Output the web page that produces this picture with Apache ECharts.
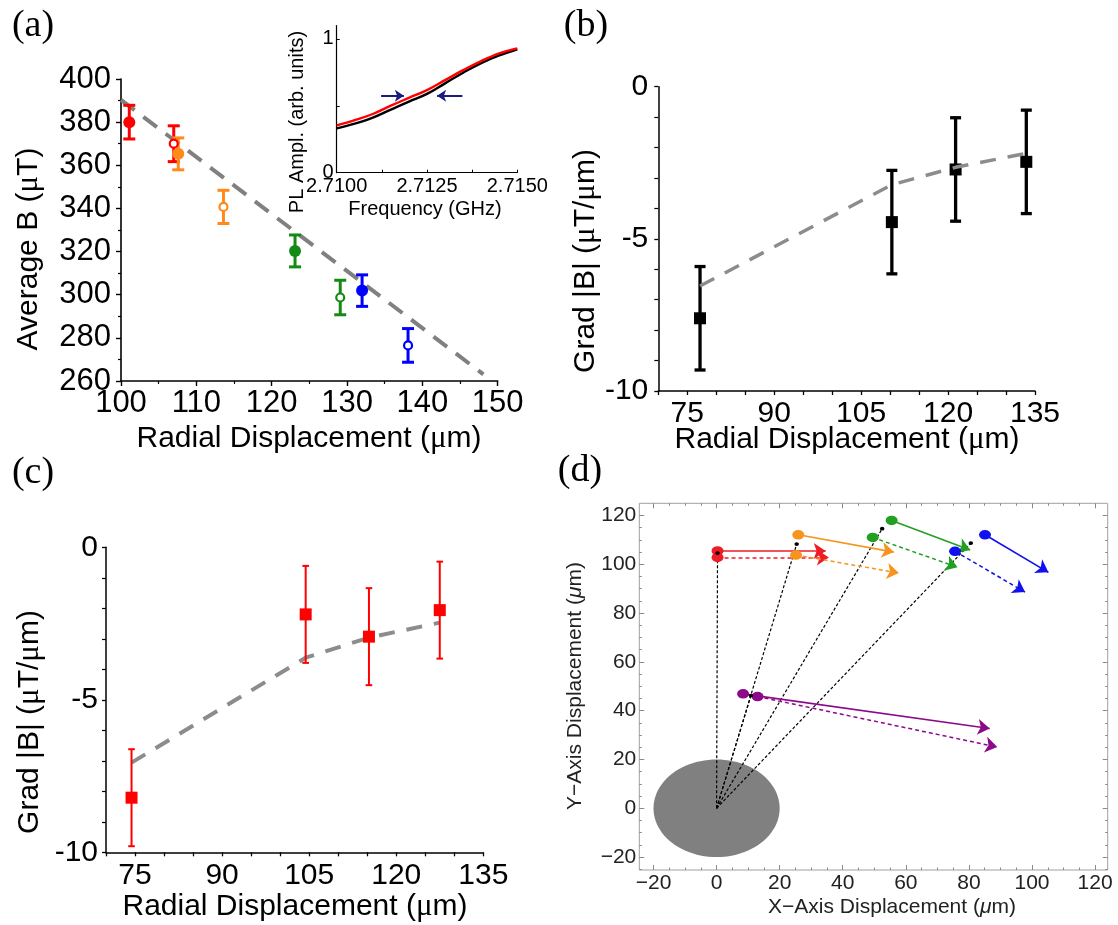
<!DOCTYPE html>
<html><head><meta charset="utf-8">
<script src="https://cdn.jsdelivr.net/npm/echarts@6/dist/echarts.min.js"></script>
<style>html,body{margin:0;padding:0;background:#fff}#c{width:1118px;height:925px}</style>
</head><body><div id="c"></div>
<script>
// ---------------- Panel (a): Average B vs radial displacement ----------------
const aX    = [101.1, 107.0, 107.6, 113.6, 123.1, 129.1, 132.0, 138.1];
const aY    = [380.0, 370.0, 365.3, 340.7, 320.3, 298.7, 301.9, 276.5];
const aErr  = [7.8, 8.3, 7.4, 7.7, 7.4, 8.0, 7.3, 7.8];
const aColors = ['#ff0000', '#ff0000', '#ff8a1c', '#ff8a1c', '#138a13', '#138a13', '#0000ff', '#0000ff'];
const aOpen = [false, true, false, true, false, true, false, true];
const aFitX = [100.0, 148.1];
const aFitY = [390.3, 263.1];

// ---------------- Inset of (a): PL amplitude vs frequency ----------------
const insetFreq  = [2.7100, 2.7105, 2.7110, 2.7115, 2.7120, 2.7125, 2.7130, 2.7135, 2.7140, 2.7145, 2.7150];
const insetBlack = [0.332, 0.367, 0.412, 0.472, 0.532, 0.589, 0.668, 0.748, 0.820, 0.877, 0.923];
const insetRed   = [0.354, 0.393, 0.439, 0.501, 0.560, 0.618, 0.692, 0.767, 0.835, 0.892, 0.930];
const insetArrowFromX = [2.71123, 2.71348];
const insetArrowToX   = [2.71186, 2.71278];
const insetArrowY     = [0.576, 0.576];
const insetXLabels = ['2.7100', '2.7125', '2.7150'];
const insetYLabels = [0, 1];
const insetYTicks  = [0, 0.5, 1];

// ---------------- Panel (b): Grad |B| (black) ----------------
const bX    = [77.2, 110.3, 121.3, 133.5];
const bY    = [-7.61, -4.45, -2.72, -2.47];
const bErr  = [1.70, 1.70, 1.70, 1.70];
const bFitY = [-6.55, -3.22, -2.65, -2.19];

// ---------------- Panel (c): Grad |B| (red) ----------------
const cX    = [74.4, 104.4, 115.3, 127.5];
const cY    = [-8.21, -2.20, -2.93, -2.06];
const cErr  = [1.59, 1.59, 1.59, 1.59];
const cFitY = [-7.06, -3.62, -2.96, -2.47];

// ---------------- Panel (d): displacement map ----------------
const dDiskRadius = 20;
const dColors   = ['#ee1c25', '#f7941d', '#22a022', '#1010f0', '#8b0a8b'];
const dMidX     = [0.3, 25.4, 52.5, 80.6, 10.9];
const dMidY     = [104.6, 108.3, 114.6, 108.7, 46.2];
const dSolidX0  = [0.3, 25.9, 55.5, 85.1, 8.4];
const dSolidY0  = [105.5, 112.1, 118.0, 112.1, 46.9];
const dSolidX1  = [34.6, 56.2, 80.4, 105.2, 86.6];
const dSolidY1  = [105.4, 105.0, 105.9, 96.7, 32.7];
const dDashX0   = [0.3, 25.2, 49.5, 75.6, 13.0];
const dDashY0   = [102.8, 103.8, 111.0, 105.3, 45.8];
const dDashX1   = [35.6, 57.8, 76.4, 97.8, 89.0];
const dDashY1   = [102.8, 96.4, 98.8, 88.6, 25.1];
const dMajorX = [-20, 0, 20, 40, 60, 80, 100, 120];
const dMinorX = [-15, -10, -5, 5, 10, 15, 25, 30, 35, 45, 50, 55, 65, 70, 75, 85, 90, 95, 105, 110, 115];
const dMajorY = [-20, 0, 20, 40, 60, 80, 100, 120];
const dMinorY = [-25, -15, -10, -5, 5, 10, 15, 25, 30, 35, 45, 50, 55, 65, 70, 75, 85, 90, 95, 105, 110, 115];

// ============================================================
const SANS = "'Liberation Sans', Arial, Helvetica, sans-serif";
const SERIF = "'Liberation Serif', 'Times New Roman', serif";

function errSeries(ai, xs, ys, es, colors, lw, half, z) {
  return {
    type: 'custom', xAxisIndex: ai, yAxisIndex: ai, silent: true, z: z || 2,
    data: xs.map((x, i) => [x, ys[i], es[i]]),
    renderItem(params, api) {
      const x = api.value(0), y = api.value(1), e = api.value(2);
      const t = api.coord([x, y + e]), b = api.coord([x, y - e]);
      const c = Array.isArray(colors) ? colors[params.dataIndex] : colors;
      const st = { stroke: c, lineWidth: lw };
      return { type: 'group', children: [
        { type: 'line', shape: { x1: t[0], y1: t[1], x2: b[0], y2: b[1] }, style: st },
        { type: 'line', shape: { x1: t[0] - half, y1: t[1], x2: t[0] + half, y2: t[1] }, style: st },
        { type: 'line', shape: { x1: b[0] - half, y1: b[1], x2: b[0] + half, y2: b[1] }, style: st }
      ]};
    }
  };
}

const blackAxis = (w) => ({ show: true, onZero: false, lineStyle: { color: '#000', width: w } });

function radialX(grid) {
  return { type: 'value', gridIndex: grid, min: 70, max: 135, interval: 5,
    axisLine: blackAxis(1.5), splitLine: { show: false },
    axisTick: { length: 4, lineStyle: { color: '#000', width: 1.3 } },
    axisLabel: { fontSize: 30, color: '#000', fontFamily: SANS, margin: 8,
      formatter: v => (v % 15 === 0 ? String(v) : '') } };
}
function gradY(grid, margin) {
  return { type: 'value', gridIndex: grid, min: -10, max: 0, interval: 5,
    axisLine: blackAxis(1.5), splitLine: { show: false },
    axisTick: { length: 4, lineStyle: { color: '#000', width: 1.3 } },
    minorTick: { show: true, splitNumber: 5, length: 4, lineStyle: { color: '#000', width: 1.2 } },
    axisLabel: { fontSize: 30, color: '#000', fontFamily: SANS, margin: margin } };
}
function dAxis(isX, pos, ticks, len, labels) {
  return { type: 'value', gridIndex: 4, position: pos,
    min: isX ? -24.5 : -25.3, max: isX ? 124 : 125,
    axisLine: { show: false, onZero: false }, splitLine: { show: false },
    axisTick: { show: true, inside: true, length: len, customValues: ticks, lineStyle: { color: '#8a8a8a', width: 1 } },
    axisLabel: labels ? { show: true, customValues: labels, fontSize: 21, color: '#222', fontFamily: SANS, margin: 3,
      formatter: v => (v < 0 ? '\u2212' + (-v) : String(v)) } : { show: false } };
}

const xAxes = [
  { type: 'value', gridIndex: 0, min: 100, max: 150, interval: 10,
    axisLine: blackAxis(1.6), splitLine: { show: false },
    axisTick: { length: 5, lineStyle: { color: '#000', width: 1.4 } },
    minorTick: { show: true, splitNumber: 2, length: 3, lineStyle: { color: '#000', width: 1.2 } },
    axisLabel: { fontSize: 31, color: '#000', fontFamily: SANS, margin: 7 } },
  { type: 'value', gridIndex: 1, min: 2.71, max: 2.715, interval: 0.00125,
    axisLine: blackAxis(1.2), splitLine: { show: false },
    axisTick: { inside: true, length: 3, lineStyle: { color: '#000', width: 1 } },
    axisLabel: { fontSize: 20, color: '#000', fontFamily: SANS, margin: 4,
      formatter: v => { const k = Math.round((v - 2.71) / 0.00125); return k % 2 === 0 ? insetXLabels[k / 2] : ''; } } },
  radialX(2),
  radialX(3),
  dAxis(true, 'bottom', dMajorX, 5, dMajorX),
  dAxis(true, 'bottom', dMinorX, 2.5, null),
  dAxis(true, 'top', dMajorX, 5, null),
  dAxis(true, 'top', dMinorX, 2.5, null)
];
const yAxes = [
  { type: 'value', gridIndex: 0, min: 260, max: 400, interval: 20,
    axisLine: blackAxis(1.6), splitLine: { show: false },
    axisTick: { length: 5, lineStyle: { color: '#000', width: 1.4 } },
    minorTick: { show: true, splitNumber: 2, length: 3, lineStyle: { color: '#000', width: 1.2 } },
    axisLabel: { fontSize: 31, color: '#000', fontFamily: SANS, margin: 10 } },
  { type: 'value', gridIndex: 1, min: 0, max: 1.1,
    axisLine: blackAxis(1.2), splitLine: { show: false },
    axisTick: { inside: true, length: 3, customValues: insetYTicks, lineStyle: { color: '#000', width: 1 } },
    axisLabel: { fontSize: 20, color: '#000', fontFamily: SANS, margin: 3, customValues: insetYLabels } },
  gradY(2, 10),
  gradY(3, 8),
  dAxis(false, 'left', dMajorY, 5, dMajorY),
  dAxis(false, 'left', dMinorY, 2.5, null),
  dAxis(false, 'right', dMajorY, 5, null),
  dAxis(false, 'right', dMinorY, 2.5, null)
];

const series = [];
// ---- (a)
series.push({ type: 'line', xAxisIndex: 0, yAxisIndex: 0, symbol: 'none', silent: true, z: 1,
  data: aFitX.map((x, i) => [x, aFitY[i]]),
  lineStyle: { color: '#808080', width: 4, type: [17, 11] } });
series.push(errSeries(0, aX, aY, aErr, aColors, 3, 6, 2));
series.push({ type: 'scatter', xAxisIndex: 0, yAxisIndex: 0, z: 3, silent: true,
  data: aX.map((x, i) => ({ value: [x, aY[i]], symbolSize: aOpen[i] ? 8 : 12,
    itemStyle: aOpen[i] ? { color: '#fff', borderColor: aColors[i], borderWidth: 2.2, opacity: 1 } : { color: aColors[i], opacity: 1 } })) });
// ---- inset
series.push({ type: 'line', xAxisIndex: 1, yAxisIndex: 1, symbol: 'none', smooth: 0.4, silent: true,
  data: insetFreq.map((f, i) => [f, insetBlack[i]]), lineStyle: { color: '#000', width: 2.4 } });
series.push({ type: 'line', xAxisIndex: 1, yAxisIndex: 1, symbol: 'none', smooth: 0.4, silent: true,
  data: insetFreq.map((f, i) => [f, insetRed[i]]), lineStyle: { color: '#ff0000', width: 2.4 } });
series.push({ type: 'lines', coordinateSystem: 'cartesian2d', xAxisIndex: 1, yAxisIndex: 1, silent: true,
  symbol: ['none', 'arrow'], symbolSize: 9,
  data: insetArrowFromX.map((x, i) => ({ coords: [[x, insetArrowY[i]], [insetArrowToX[i], insetArrowY[i]]] })),
  lineStyle: { color: '#1a1a80', width: 2, opacity: 1 } });
// ---- (b)
series.push(errSeries(2, bX, bY, bErr, '#000', 3.3, 5.5, 2));
series.push({ type: 'scatter', xAxisIndex: 2, yAxisIndex: 2, symbol: 'rect', symbolSize: 12, z: 3, silent: true,
  data: bX.map((x, i) => [x, bY[i]]), itemStyle: { color: '#000', opacity: 1 } });
series.push({ type: 'line', xAxisIndex: 2, yAxisIndex: 2, symbol: 'none', silent: true, z: 4,
  data: bX.map((x, i) => [x, bFitY[i]]), lineStyle: { color: '#8c8c8c', width: 3.5, type: [16, 12] } });
// ---- (c)
series.push({ type: 'line', xAxisIndex: 3, yAxisIndex: 3, symbol: 'none', silent: true, z: 1,
  data: cX.map((x, i) => [x, cFitY[i]]), lineStyle: { color: '#8c8c8c', width: 4, type: [16, 12] } });
series.push(errSeries(3, cX, cY, cErr, '#ff0000', 2, 3.3, 2));
series.push({ type: 'scatter', xAxisIndex: 3, yAxisIndex: 3, symbol: 'rect', symbolSize: 12, z: 3, silent: true,
  data: cX.map((x, i) => [x, cY[i]]), itemStyle: { color: '#ff0000', opacity: 1 } });
// ---- (d)
series.push({ type: 'custom', xAxisIndex: 4, yAxisIndex: 4, silent: true, z: 1,
  data: [[0, 0, dDiskRadius]],
  renderItem(params, api) {
    const cx = api.value(0), cy = api.value(1), r = api.value(2);
    const pts = [];
    for (let k = 0; k < 96; k++) {
      const t = k / 96 * Math.PI * 2;
      pts.push(api.coord([cx + r * Math.cos(t), cy + r * Math.sin(t)]));
    }
    return { type: 'polygon', shape: { points: pts }, style: { fill: '#808080' } };
  } });
series.push({ type: 'lines', coordinateSystem: 'cartesian2d', xAxisIndex: 4, yAxisIndex: 4, silent: true, z: 2,
  symbol: 'none',
  data: dMidX.map((x, i) => ({ coords: [[0, 0], [x, dMidY[i]]] })),
  lineStyle: { color: '#000', width: 1.2, type: [3, 2], opacity: 1 } });
series.push({ type: 'lines', coordinateSystem: 'cartesian2d', xAxisIndex: 4, yAxisIndex: 4, silent: true, z: 3,
  symbol: ['none', 'arrow'], symbolSize: 12,
  data: dColors.map((c, i) => ({ coords: [[dSolidX0[i], dSolidY0[i]], [dSolidX1[i], dSolidY1[i]]], lineStyle: { color: c } })),
  lineStyle: { width: 1.6, opacity: 1 } });
series.push({ type: 'lines', coordinateSystem: 'cartesian2d', xAxisIndex: 4, yAxisIndex: 4, silent: true, z: 3,
  symbol: ['none', 'arrow'], symbolSize: 12,
  data: dColors.map((c, i) => ({ coords: [[dDashX0[i], dDashY0[i]], [dDashX1[i], dDashY1[i]]], lineStyle: { color: c } })),
  lineStyle: { width: 1.5, type: [4, 3], opacity: 1 } });
series.push({ type: 'scatter', xAxisIndex: 4, yAxisIndex: 4, silent: true, z: 4, symbolSize: [12, 9.5],
  data: dColors.map((c, i) => ({ value: [dSolidX0[i], dSolidY0[i]], itemStyle: { color: c, opacity: 1 } }))
    .concat(dColors.map((c, i) => ({ value: [dDashX0[i], dDashY0[i]], itemStyle: { color: c, opacity: 1 } }))) });
series.push({ type: 'scatter', xAxisIndex: 4, yAxisIndex: 4, silent: true, z: 5, symbolSize: [4.5, 3.8],
  data: dMidX.map((x, i) => [x, dMidY[i]]), itemStyle: { color: '#000', opacity: 1 } });

function txt(t, x, y, fs, family, rot, color, rich) {
  const style = { text: t, font: fs + 'px ' + family, fill: color || '#000', align: 'center', verticalAlign: 'middle' };
  if (rich) style.rich = rich;
  return { type: 'text', x: x, y: y, rotation: rot ? Math.PI / 2 : 0, z: 100, silent: true, style: style };
}
const mu30 = { m: { fontFamily: SERIF, fontSize: 31, fill: '#000' } };
const mu20 = { m: { fontFamily: SANS, fontSize: 21, fontStyle: 'italic', fill: '#222' } };

const option = {
  animation: false,
  backgroundColor: '#fff',
  grid: [
    { left: 121, top: 79, width: 376.7, height: 302 },
    { left: 336.7, top: 25.6, width: 180.6, height: 147.1 },
    { left: 658.3, top: 86.7, width: 376.7, height: 304.3 },
    { left: 106, top: 547.3, width: 377.3, height: 305 },
    { left: 639.3, top: 503.3, width: 468.4, height: 366.7, show: true, borderColor: '#a0a0a0', borderWidth: 1, backgroundColor: '#fff' }
  ],
  xAxis: xAxes,
  yAxis: yAxes,
  series: series,
  graphic: { elements: [
    txt('(a)', 33, 26, 38, SERIF),
    txt('(b)', 586, 26, 38, SERIF),
    txt('(c)', 33, 473, 38, SERIF),
    txt('(d)', 580, 471, 38, SERIF),
    txt('Average B ({m|\u03bc}T)', 29, 249, 30, SANS, true, '#000', mu30),
    txt('Radial Displacement ({m|\u03bc}m)', 309, 439, 30, SANS, false, '#000', mu30),
    txt('PL Ampl. (arb. units)', 297, 122, 20, SANS, true),
    txt('Frequency (GHz)', 425, 209, 20, SANS),
    txt('Grad |B| ({m|\u03bc}T/{m|\u03bc}m)', 585.5, 261, 30, SANS, true, '#000', mu30),
    txt('Radial Displacement ({m|\u03bc}m)', 847, 440, 30, SANS, false, '#000', mu30),
    txt('Grad |B| ({m|\u03bc}T/{m|\u03bc}m)', 30, 722, 30, SANS, true, '#000', mu30),
    txt('Radial Displacement ({m|\u03bc}m)', 295, 907, 30, SANS, false, '#000', mu30),
    txt('Y\u2212Axis Displacement ({m|\u03bc}m)', 575, 686, 21, SANS, true, '#222', mu20),
    txt('X\u2212Axis Displacement ({m|\u03bc}m)', 892, 907, 21, SANS, false, '#222', mu20)
  ] }
};

const chart = echarts.init(document.getElementById('c'), null, { renderer: 'canvas', width: 1118, height: 925 });
chart.setOption(option);
</script>
</body></html>
